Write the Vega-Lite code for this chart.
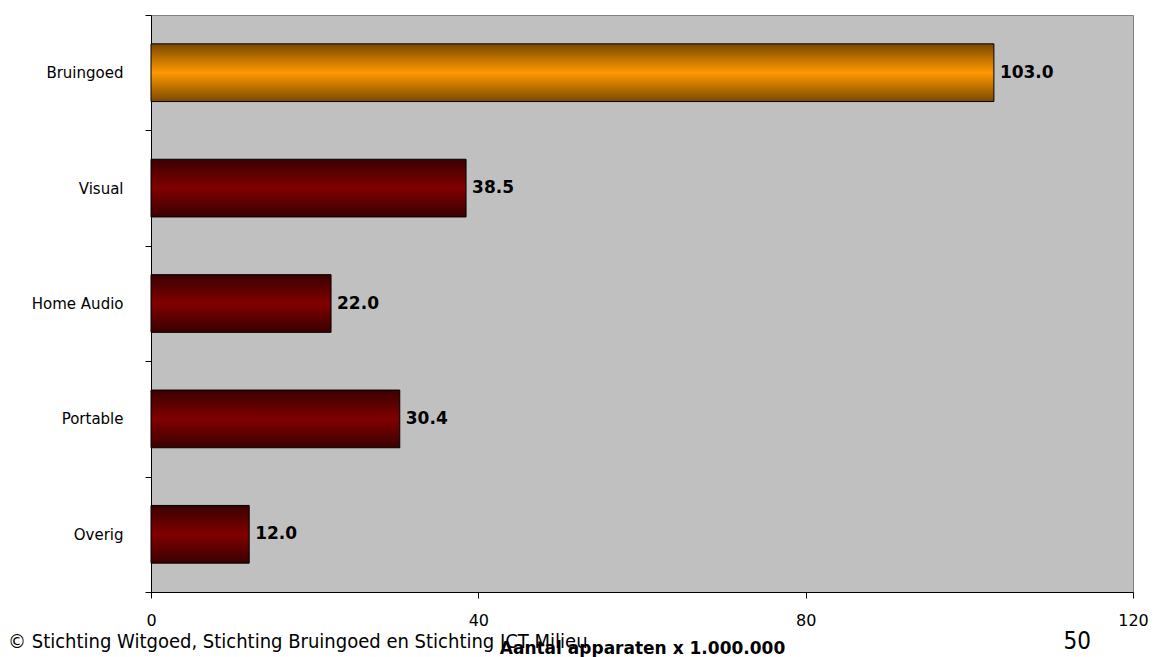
{
  "$schema": "https://vega.github.io/schema/vega-lite/v6.json",
  "width": 982,
  "height": 577,
  "autosize": {"type": "none"},
  "padding": {"left": 151, "top": 15, "right": 28, "bottom": 65},
  "background": "white",
  "config": {
    "view": {"fill": "#C0C0C0", "stroke": "#808080", "strokeWidth": 1},
    "font": "DejaVu Sans"
  },
  "title": {
    "text": "©  Stichting Witgoed, Stichting Bruingoed en Stichting ICT Milieu",
    "orient": "bottom",
    "anchor": "start",
    "frame": "group",
    "dx": -143,
    "offset": -24,
    "fontSize": 20,
    "fontWeight": "normal",
    "font": "DejaVu Sans Condensed",
    "color": "black"
  },
  "data": {
    "values": [
      {"cat": "Bruingoed", "value": 103.0},
      {"cat": "Visual", "value": 38.5},
      {"cat": "Home Audio", "value": 22.0},
      {"cat": "Portable", "value": 30.4},
      {"cat": "Overig", "value": 12.0}
    ]
  },
  "encoding": {
    "y": {
      "field": "cat",
      "type": "nominal",
      "sort": ["Bruingoed", "Visual", "Home Audio", "Portable", "Overig"],
      "scale": {"paddingInner": 0, "paddingOuter": 0},
      "axis": {
        "title": "50",
        "titleAngle": 0,
        "titleAlign": "left",
        "titleBaseline": "alphabetic",
        "titleX": 912,
        "titleY": 633,
        "titleFontSize": 24,
        "titleFontWeight": "normal",
        "titleFont": "DejaVu Sans Condensed",
        "titleColor": "black",
        "domainColor": "black",
        "tickColor": "black",
        "tickSize": 6,
        "tickBand": "extent",
        "labelPadding": 22,
        "labelFontSize": 15,
        "labelColor": "black"
      }
    },
    "x": {
      "field": "value",
      "type": "quantitative",
      "scale": {"domain": [0, 120]},
      "axis": {
        "values": [0, 40, 80, 120],
        "grid": false,
        "title": "Aantal apparaten x 1.000.000",
        "titleFontSize": 17,
        "titleFontWeight": "bold",
        "titleColor": "black",
        "titlePadding": 12,
        "domainColor": "black",
        "tickColor": "black",
        "tickSize": 6,
        "labelPadding": 14,
        "labelFontSize": 16,
        "labelFlush": false,
        "labelOverlap": false,
        "labelColor": "black"
      }
    }
  },
  "layer": [
    {
      "mark": {"type": "bar", "stroke": "black", "strokeWidth": 1, "height": {"band": 0.5}},
      "encoding": {
        "fill": {
          "condition": {
            "test": "datum.cat === 'Bruingoed'",
            "value": {
              "gradient": "linear",
              "x1": 0, "y1": 0, "x2": 0, "y2": 1,
              "stops": [
                {"offset": 0, "color": "#7A4800"},
                {"offset": 0.5, "color": "#FF9900"},
                {"offset": 1, "color": "#7A4800"}
              ]
            }
          },
          "value": {
            "gradient": "linear",
            "x1": 0, "y1": 0, "x2": 0, "y2": 1,
            "stops": [
              {"offset": 0, "color": "#3A0000"},
              {"offset": 0.5, "color": "#800000"},
              {"offset": 1, "color": "#3A0000"}
            ]
          }
        }
      }
    },
    {
      "mark": {"type": "text", "align": "left", "baseline": "middle", "dx": 6, "fontWeight": "bold", "fontSize": 17, "color": "black"},
      "encoding": {"text": {"field": "value", "type": "quantitative", "format": ".1f"}}
    }
  ]
}
